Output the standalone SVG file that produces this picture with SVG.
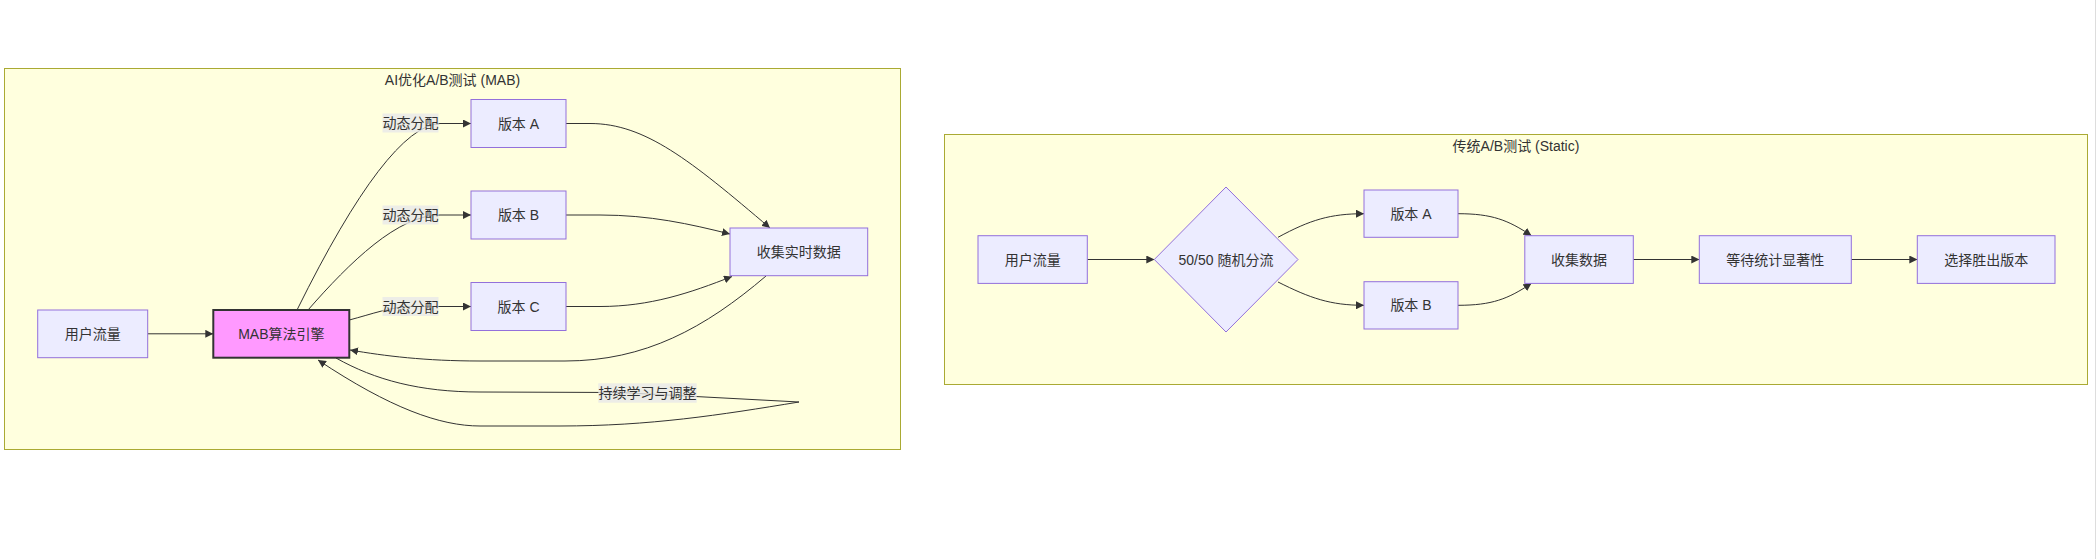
<svg xmlns="http://www.w3.org/2000/svg" width="2096" height="559" viewBox="0 0 2096 559">
<defs>
<marker id="arrow" viewBox="0 0 10 10" refX="10" refY="5" markerUnits="userSpaceOnUse" markerWidth="8" markerHeight="8" orient="auto">
<path d="M0,0 L10,5 L0,10 z" fill="#333333"/>
</marker>
<style>
text{font-family:"Liberation Sans","Noto Sans CJK SC",sans-serif;font-size:14px;fill:#333333;text-anchor:middle;dominant-baseline:central}
.cluster{fill:#ffffde;stroke:#aaaa33;stroke-width:1}
.node{fill:#ececff;stroke:#9370db;stroke-width:1}
.mab{fill:#ff99ff;stroke:#333333;stroke-width:2}
.edge{fill:none;stroke:#333333;stroke-width:1;marker-end:url(#arrow)}
.lbl{fill:#e8e8e8;fill-opacity:0.8}
</style>
</defs>
<rect x="0" y="0" width="2096" height="559" fill="#ffffff"/>
<line x1="2095.5" y1="0" x2="2095.5" y2="559" stroke="#dddddd" stroke-width="1"/>

<g id="cluster-mab">
<rect class="cluster" x="4.5" y="68.5" width="896" height="381"/>
<text x="452.5" y="79.5">AI优化A/B测试 (MAB)</text>
</g>
<g id="cluster-static">
<rect class="cluster" x="944.5" y="134.5" width="1143" height="250"/>
<text x="1516" y="145.5">传统A/B测试 (Static)</text>
</g>

<g id="connectors">
<!-- MAB side -->
<path class="edge" d="M147.7,333.8 L213.3,333.8"/>
<path class="edge" d="M297,310 Q 388,126 440,123.5 L471,123.5"/>
<path class="edge" d="M308,310 C 350,262 398,215 440,215 L471,215"/>
<path class="edge" d="M349.3,320 C 372,314 392,306.5 412,306.5 L471,306.5"/>
<path class="edge" d="M566,123.5 L590,123.5 C 645,123.5 690,160 770,228"/>
<path class="edge" d="M566,215 L600,215 C 650,215 690,224 730,234"/>
<path class="edge" d="M566,306.5 L600,306.5 C 650,306.5 690,293 732,276.5"/>
<path class="edge" d="M766,276 C 705,328 645,361 565,361 L480,361 C 425,361 385,356 350,350"/>
<path class="edge" d="M336,358 C 375,380 420,392 480,392 L620,392.5 L799,402 C 720,415 650,426 560,426 L480,426 C 440,426 390,408 318,360"/>
<!-- Static side -->
<path class="edge" d="M1087.3,259.5 L1154.3,259.5"/>
<path class="edge" d="M1278,237.3 C 1310,220 1330,213.7 1364,213.7"/>
<path class="edge" d="M1278,282 C 1310,298 1330,305.3 1364,305.3"/>
<path class="edge" d="M1458,213.7 C 1492,213.7 1508,220 1531.5,235.7"/>
<path class="edge" d="M1458,305.3 C 1492,305.3 1508,299 1531.5,283.3"/>
<path class="edge" d="M1633.3,259.5 L1699.3,259.5"/>
<path class="edge" d="M1851.3,259.5 L1917.3,259.5"/>
</g>

<g id="edge-labels">
<g id="label-alloc-a"><rect class="lbl" x="382.5" y="113.5" width="56" height="19"/><text x="410.5" y="123">动态分配</text></g>
<g id="label-alloc-b"><rect class="lbl" x="382.5" y="205.5" width="56" height="19"/><text x="410.5" y="215">动态分配</text></g>
<g id="label-alloc-c"><rect class="lbl" x="382.5" y="297" width="56" height="19"/><text x="410.5" y="306.5">动态分配</text></g>
<g id="label-learn"><rect class="lbl" x="598.3" y="383.3" width="98.4" height="19.4"/><text x="647.5" y="393">持续学习与调整</text></g>
</g>

<g id="mab-traffic"><rect class="node" x="37.7" y="310" width="110" height="47.7"/><text x="92.7" y="334">用户流量</text></g>
<g id="mab-engine"><rect class="mab" x="213.3" y="310" width="136" height="47.7"/><text x="281.3" y="334">MAB算法引擎</text></g>
<g id="mab-va"><rect class="node" x="471" y="99.5" width="95" height="48"/><text x="518.5" y="123.5">版本 A</text></g>
<g id="mab-vb"><rect class="node" x="471" y="191" width="95" height="48"/><text x="518.5" y="215">版本 B</text></g>
<g id="mab-vc"><rect class="node" x="471" y="282.5" width="95" height="48"/><text x="518.5" y="306.5">版本 C</text></g>
<g id="mab-collect"><rect class="node" x="730" y="228" width="137.7" height="47.7"/><text x="798.8" y="252">收集实时数据</text></g>

<g id="st-traffic"><rect class="node" x="978" y="235.7" width="109.3" height="47.7"/><text x="1032.7" y="259.5">用户流量</text></g>
<g id="st-split"><polygon class="node" points="1226,187 1298,259.5 1226,332 1154.3,259.5"/><text x="1226" y="259.5">50/50 随机分流</text></g>
<g id="st-va"><rect class="node" x="1364" y="190" width="94" height="47.3"/><text x="1411" y="213.7">版本 A</text></g>
<g id="st-vb"><rect class="node" x="1364" y="281.7" width="94" height="47.3"/><text x="1411" y="305.3">版本 B</text></g>
<g id="st-collect"><rect class="node" x="1524.8" y="235.7" width="108.5" height="47.7"/><text x="1579" y="259.5">收集数据</text></g>
<g id="st-wait"><rect class="node" x="1699.3" y="235.7" width="152" height="47.7"/><text x="1775.3" y="259.5">等待统计显著性</text></g>
<g id="st-pick"><rect class="node" x="1917.3" y="235.7" width="137.7" height="47.7"/><text x="1986.2" y="259.5">选择胜出版本</text></g>
</svg>
